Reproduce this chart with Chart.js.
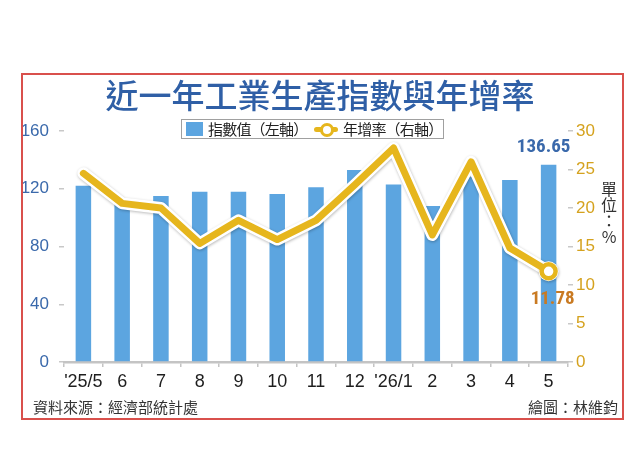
<!DOCTYPE html>
<html>
<head>
<meta charset="utf-8">
<script src="https://cdn.jsdelivr.net/npm/chart.js@4/dist/chart.umd.min.js"></script>
<style>
  html, body { margin: 0; padding: 0; background: #fff; }
  #wrap { position: relative; width: 640px; height: 460px; overflow: hidden; background: #fff; }
  #c { position: absolute; left: 0; top: 0; }
  .frame { position: absolute; left: 21px; top: 73px; width: 599px; height: 343px; border: 2px solid #d9504c; box-sizing: content-box; pointer-events: none; }
  .title { position: absolute; left: 0; width: 640px; top: 72px; text-align: center; font-family: "Noto Sans CJK TC", sans-serif; font-size: 33px; font-weight: 500; color: #2f5fa6; line-height: 44px; }
  .legend { position: absolute; left: 181px; top: 119px; width: 263px; height: 20px; border: 1px solid #a0a0a0; box-sizing: border-box; font-family: "Noto Sans CJK TC", sans-serif; font-size: 15px; color: #222; line-height: 18px; white-space: nowrap; letter-spacing: -0.8px; }
  .legend .sq { position: absolute; left: 4px; top: 2px; width: 17px; height: 14px; background: #5ca5e0; }
  .legend .t1 { position: absolute; left: 26px; top: 0px; }
  .legend .ln { position: absolute; left: 132px; top: 7px; width: 24px; height: 5px; background: #e6b61d; border-radius: 3px; }
  .legend .dot { position: absolute; left: 138px; top: 3px; width: 8px; height: 8px; border: 3px solid #e6b61d; border-radius: 50%; background: #fff; }
  .legend .t2 { position: absolute; left: 161px; top: 0px; }
  .unit { position: absolute; left: 600px; top: 180px; width: 18px; font-family: "Noto Sans CJK TC", sans-serif; font-size: 16px; color: #333; line-height: 16px; text-align: center; }
  .foot { position: absolute; top: 397px; font-family: "Noto Sans CJK TC", sans-serif; font-size: 15px; color: #333; line-height: 20px; }
</style>
</head>
<body>
<div id="wrap">
  <canvas id="c" width="640" height="460"></canvas>
  <div class="frame"></div>
  <div class="title">近一年工業生產指數與年增率</div>
  <div class="legend">
    <span class="sq"></span><span class="t1">指數值（左軸）</span>
    <span class="ln"></span><span class="dot"></span><span class="t2">年增率（右軸）</span>
  </div>
  <div class="unit">單<br>位<br>：<br>%</div>
  <div class="foot" style="left:33px;">資料來源：經濟部統計處</div>
  <div class="foot" style="right:22px;">繪圖：林維鈞</div>
</div>
<script>
const categories = ["'25/5", "6", "7", "8", "9", "10", "11", "12", "'26/1", "2", "3", "4", "5"];
const indexValues = [122, 111.5, 115, 118, 118, 116.3, 121, 133, 123, 108, 128.3, 126, 136.65];
const growthRates = [24.5, 20.6, 20.0, 15.4, 18.4, 15.9, 18.4, 23.0, 27.8, 16.5, 26.0, 14.8, 11.78];
const leftTicks = [0, 40, 80, 120, 160];
const rightTicks = [0, 5, 10, 15, 20, 25, 30];
const labelIndexLast = "136.65";
const labelRateLast = "11.78";

const lastIdx = categories.length - 1;
const yellowRadius = categories.map((_, i) => i === lastIdx ? 7 : 0);
const haloRadius = categories.map((_, i) => i === lastIdx ? 10 : 0);

const haloShadow = {
  id: 'haloShadow',
  beforeDatasetDraw(chart, args) {
    if (args.index === 1) {
      const ctx = chart.ctx;
      ctx.save();
      ctx.shadowColor = 'rgba(0,0,0,0.28)';
      ctx.shadowBlur = 3;
      ctx.shadowOffsetX = 0.5;
      ctx.shadowOffsetY = 1;
    }
  },
  afterDatasetDraw(chart, args) {
    if (args.index === 1) chart.ctx.restore();
  }
};

const valueLabels = {
  id: 'valueLabels',
  afterDatasetsDraw(chart) {
    const ctx = chart.ctx;
    const x = chart.scales.x, y = chart.scales.y, y1 = chart.scales.y1;
    ctx.save();
    ctx.textAlign = 'center';
    ctx.textBaseline = 'middle';
    ctx.font = 'bold 19px "Liberation Sans Narrow", "Roboto Condensed", "Liberation Sans", sans-serif';
    ctx.fillStyle = '#3a69ab';
    ctx.fillText(labelIndexLast, x.getPixelForValue(lastIdx) - 5, y.getPixelForValue(indexValues[lastIdx]) - 17);
    ctx.fillStyle = '#c97a22';
    ctx.fillText(labelRateLast, x.getPixelForValue(lastIdx) + 4, y1.getPixelForValue(growthRates[lastIdx]) + 28);
    ctx.restore();
  }
};

new Chart(document.getElementById('c'), {
  data: {
    labels: categories,
    datasets: [
      {
        type: 'line', label: '年增率', data: growthRates, yAxisID: 'y1', order: 0,
        borderColor: '#e6b61d', borderWidth: 7, borderJoinStyle: 'round', borderCapStyle: 'round',
        pointRadius: yellowRadius, pointBackgroundColor: '#ffffff', pointBorderColor: '#e6b61d', pointBorderWidth: 4.5,
        tension: 0
      },
      {
        type: 'line', label: 'halo', data: growthRates, yAxisID: 'y1', order: 1,
        borderColor: '#ffffff', borderWidth: 12, borderJoinStyle: 'round', borderCapStyle: 'round',
        pointRadius: haloRadius, pointBackgroundColor: '#ffffff', pointBorderColor: '#ffffff', pointBorderWidth: 0,
        tension: 0
      },
      {
        type: 'bar', label: '指數值', data: indexValues, yAxisID: 'y', order: 2,
        backgroundColor: '#5ca5e0', barPercentage: 0.4, categoryPercentage: 1.0
      }
    ]
  },
  options: {
    responsive: false,
    animation: false,
    layout: { padding: { left: 0, right: 0, top: 131, bottom: 68 } },
    plugins: { legend: { display: false }, tooltip: { enabled: false }, title: { display: false } },
    scales: {
      x: {
        afterFit(s) { s.height = 30; },
        grid: { display: true, drawOnChartArea: false, drawTicks: true, tickLength: 5, color: '#c4c4c4', lineWidth: 1.5 },
        border: { display: true, color: '#c4c4c4', width: 2.5 },
        ticks: { color: '#1e1e1e', padding: 4, maxRotation: 0, autoSkip: false,
          font: { family: '"Liberation Sans", Arial, sans-serif', size: 18 } }
      },
      y: {
        position: 'left', min: 0, max: 160,
        afterFit(s) { s.width = 64; },
        afterBuildTicks(s) { s.ticks = leftTicks.map(v => ({ value: v })); },
        grid: { display: true, drawOnChartArea: false, drawTicks: true, tickLength: 5, color: '#c8c8c8', lineWidth: 1.5 },
        border: { display: false },
        ticks: { color: '#3a69ab', padding: 10, font: { family: '"Liberation Sans", Arial, sans-serif', size: 17 } }
      },
      y1: {
        position: 'right', min: 0, max: 30,
        afterFit(s) { s.width = 72; },
        afterBuildTicks(s) { s.ticks = rightTicks.map(v => ({ value: v })); },
        grid: { display: true, drawOnChartArea: false, drawTicks: true, tickLength: 5, color: '#c8c8c8', lineWidth: 1.5 },
        border: { display: false },
        ticks: { color: '#d5a21e', padding: 3, font: { family: '"Liberation Sans", Arial, sans-serif', size: 17 } }
      }
    }
  },
  plugins: [haloShadow, valueLabels]
});
</script>
</body>
</html>
